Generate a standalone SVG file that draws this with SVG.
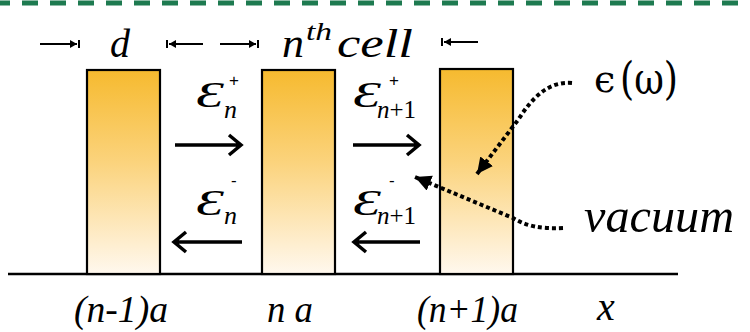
<svg xmlns="http://www.w3.org/2000/svg" width="750" height="332" viewBox="0 0 750 332">
<defs>
<linearGradient id="gold" x1="0" y1="0" x2="0" y2="1">
<stop offset="0" stop-color="#F6BA2F"/>
<stop offset="0.45" stop-color="#FBD37C"/>
<stop offset="1" stop-color="#FFF8EE"/>
</linearGradient>
<marker id="tri" markerUnits="userSpaceOnUse" markerWidth="20" markerHeight="20" refX="16" refY="8" orient="auto">
<path d="M0 0 L16 8 L0 16 Z" fill="#000"/>
</marker>
<marker id="small" markerUnits="userSpaceOnUse" markerWidth="10" markerHeight="10" refX="7" refY="4" orient="auto">
<path d="M0 0 L7 4 L0 8 Z" fill="#000"/>
</marker>
</defs>
<line x1="0" y1="3" x2="750" y2="3" stroke="#1E7A50" stroke-width="5" stroke-dasharray="16 12" stroke-dashoffset="6"/>

<g id="axis" stroke="#000" stroke-width="2.5">
<line x1="8" y1="274" x2="678" y2="274"/>
<line x1="123" y1="268" x2="123" y2="274"/>
<line x1="302" y1="268" x2="302" y2="274"/>
<line x1="481" y1="268" x2="481" y2="274"/>
</g>

<g id="cell1"><rect x="87" y="70" width="73" height="204" fill="url(#gold)" stroke="#000" stroke-width="2.2"/></g>
<g id="cell2"><rect x="262" y="70" width="73" height="204" fill="url(#gold)" stroke="#000" stroke-width="2.2"/></g>
<g id="cell3"><rect x="440" y="69" width="73" height="205" fill="url(#gold)" stroke="#000" stroke-width="2.2"/></g>

<g id="dimension-labels">
<g stroke="#000" stroke-width="2" fill="none">
<path d="M40 44 H77" marker-end="url(#small)"/>
<line x1="79" y1="40" x2="79" y2="48"/>
<line x1="167" y1="40" x2="167" y2="48"/>
<path d="M203 44 H169" marker-end="url(#small)"/>
<path d="M220 44 H256" marker-end="url(#small)"/>
<line x1="258" y1="40" x2="258" y2="48"/>
<line x1="442" y1="38" x2="442" y2="46"/>
<path d="M478 42 H444" marker-end="url(#small)"/>
</g>
<text x="110" y="57" font-size="40" font-family="Liberation Serif" font-style="italic">d</text>
<text x="282" y="57" font-size="40" textLength="22" lengthAdjust="spacingAndGlyphs" font-family="Liberation Serif" font-style="italic">n</text>
<text x="306" y="40" font-size="26" textLength="26" lengthAdjust="spacingAndGlyphs" font-family="Liberation Serif" font-style="italic">th</text>
<text x="337" y="57" font-size="40" textLength="76" lengthAdjust="spacingAndGlyphs" font-family="Liberation Serif" font-style="italic">cell</text>
</g>

<g id="connectors" fill="none" stroke="#000">
<path stroke-width="3.5" d="M175 145 H240 M229 135 L241 145 L229 155"/>
<path stroke-width="3.5" d="M353 145 H418 M407 135 L419 145 L407 155"/>
<path stroke-width="3.5" d="M242 242 H175 M186 232 L174 242 L186 252"/>
<path stroke-width="3.5" d="M420 242 H355 M366 232 L354 242 L366 252"/>
<path stroke-width="4" stroke-dasharray="4 3" d="M572 83 C548 81 532 98 518 120 L477 174" marker-end="url(#tri)"/>
<path stroke-width="4" stroke-dasharray="4 3" d="M563 228 C540 229 526 226 513 218 L415 177" marker-end="url(#tri)"/>
</g>

<g id="field-labels">
<text x="196" y="107" font-size="36" textLength="28" lengthAdjust="spacingAndGlyphs" font-family="Liberation Serif" font-style="italic">Ɛ</text>
<text x="224" y="118" font-size="26" font-family="Liberation Serif" font-style="italic">n</text>
<text x="229" y="86" font-size="17" font-family="Liberation Sans">+</text>
<text x="353" y="107" font-size="36" textLength="28" lengthAdjust="spacingAndGlyphs" font-family="Liberation Serif" font-style="italic">Ɛ</text>
<text x="377" y="118" font-size="25" font-family="Liberation Serif" font-style="italic">n<tspan font-style="normal">+1</tspan></text>
<text x="389" y="86" font-size="17" font-family="Liberation Sans">+</text>
<text x="196" y="215" font-size="36" textLength="28" lengthAdjust="spacingAndGlyphs" font-family="Liberation Serif" font-style="italic">Ɛ</text>
<text x="224" y="224" font-size="26" font-family="Liberation Serif" font-style="italic">n</text>
<text x="231" y="186" font-size="17" font-family="Liberation Sans">-</text>
<text x="353" y="215" font-size="36" textLength="28" lengthAdjust="spacingAndGlyphs" font-family="Liberation Serif" font-style="italic">Ɛ</text>
<text x="377" y="224" font-size="25" font-family="Liberation Serif" font-style="italic">n<tspan font-style="normal">+1</tspan></text>
<text x="389" y="186" font-size="17" font-family="Liberation Sans">-</text>
</g>

<g id="material-labels">
<text x="594" y="92" font-size="38" font-family="DejaVu Serif">ϵ</text>
<text x="620" y="94" font-size="44" textLength="58" lengthAdjust="spacingAndGlyphs" font-family="DejaVu Serif">(ω)</text>
<text x="584" y="232" font-size="48" textLength="150" lengthAdjust="spacingAndGlyphs" font-family="Liberation Serif" font-style="italic">vacuum</text>
</g>

<g id="position-labels">
<text x="74" y="322" font-size="37" textLength="94" lengthAdjust="spacingAndGlyphs" font-family="Liberation Serif" font-style="italic">(n-1)a</text>
<text x="267" y="322" font-size="37" textLength="46" lengthAdjust="spacingAndGlyphs" font-family="Liberation Serif" font-style="italic">n a</text>
<text x="417" y="322" font-size="37" textLength="101" lengthAdjust="spacingAndGlyphs" font-family="Liberation Serif" font-style="italic">(n+1)a</text>
<text x="597" y="320" font-size="40" font-family="Liberation Serif" font-style="italic">x</text>
</g>
</svg>
